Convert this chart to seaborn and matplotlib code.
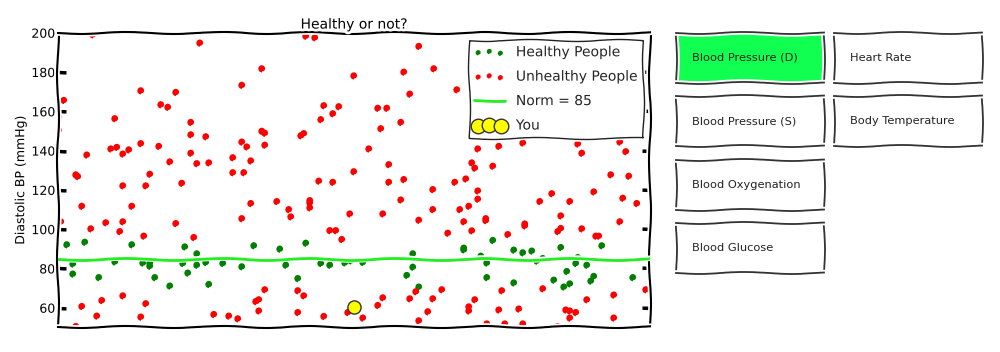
import matplotlib
matplotlib.use("Agg")
import matplotlib.pyplot as plt
import seaborn as sns

# ---------------- data ----------------
healthy_x = [9, 27, 74, 127, 139, 196, 15, 15, 57, 85,
             92, 92, 125, 139, 148, 165, 184, 41, 97, 130,
             112, 151, 222, 248, 228, 263, 272, 287, 293, 305,
             240, 355, 355, 349, 361, 406, 406, 435, 423, 429,
             456, 465, 474, 479, 485, 503, 520, 518, 529, 544,
             429, 456, 496, 509, 512, 506, 536, 533, 575]
healthy_y = [92.1, 93.4, 92.1, 91.0, 87.5, 91.6, 82.3, 77.2, 83.4, 82.8,
             82.8, 81.2, 82.6, 81.7, 83.1, 82.6, 80.9, 75.4, 75.4, 77.7,
             71.1, 71.9, 89.9, 92.9, 81.7, 82.6, 81.7, 82.9, 83.9, 83.1,
             74.9, 87.5, 80.7, 76.5, 70.6, 90.4, 89.5, 94.3, 86.3, 82.8,
             89.4, 88.0, 88.9, 83.8, 85.1, 90.7, 85.6, 82.6, 81.7, 91.6,
             75.4, 72.7, 74.1, 78.5, 72.2, 70.6, 76.0, 73.6, 75.4]

unhealthy_x = [35, 142, 83, 118, 184, 6, 103, 110, 57, 1,
               1, 133, 133, 148, 83, 101, 53, 59, 65, 71,
               29, 133, 184, 189, 193, 175, 112, 139, 151, 18,
               20, 92, 175, 186,
               65, 88, 124, 24, 74, 193, 3, 48, 65, 33,
               62, 86, 118, 136, 184, 24, 44, 65, 88, 39,
               83, 18, 156, 171, 180,
               248, 257, 361, 204, 296, 346, 376, 352, 266, 281,
               275, 263, 320, 329, 343, 323, 204, 207, 243, 246,
               207, 311, 331, 296, 346, 261,
               275, 331, 375, 219, 252, 252, 252, 231, 233, 343,
               375, 292, 325, 361, 272, 278, 284, 390, 207, 198,
               201, 201, 240, 246, 240, 266, 290, 305, 320, 325,
               352, 358, 375, 384, 370, 361,
               399, 420, 441, 465, 520, 562, 524, 568, 414, 417,
               435, 408, 553, 571,
               397, 420, 420, 402, 411, 406, 414, 428, 428, 450,
               467, 467, 482, 494, 512, 503, 503, 500, 524, 536,
               565, 579, 562, 538, 541, 444, 417, 411, 411, 441,
               461, 485, 529, 556, 588, 508, 512, 518, 512, 556,
               429, 447, 465, 500]
unhealthy_y = [199.0, 194.8, 170.5, 169.7, 173.3, 165.6, 163.4, 162.1, 156.3, 157.0,
               150.4, 154.4, 148.1, 147.1, 143.6, 142.2, 140.9, 141.7, 138.3, 140.4,
               137.8, 138.7, 144.4, 141.9, 134.8, 136.4, 134.3, 133.4, 133.8, 127.7,
               126.8, 128.0, 128.8, 128.8,
               122.1, 122.1, 123.4, 111.7, 111.7, 113.1, 103.8, 103.3, 103.8, 100.2,
               98.8, 96.5, 102.9, 95.8, 105.4, 60.7, 63.7, 66.1, 62.1, 55.8,
               55.3, 50.5, 56.6, 55.8, 54.4,
               198.3, 197.5, 193.1, 181.7, 178.1, 180.0, 181.7, 168.8, 162.9, 162.4,
               158.8, 155.8, 161.6, 161.6, 154.4, 151.2, 149.9, 148.9, 147.6, 148.7,
               142.8, 140.9, 132.9, 129.3, 125.3, 124.5,
               123.9, 123.9, 120.2, 114.1, 114.6, 113.4, 110.9, 110.0, 106.3, 114.9,
               110.0, 107.8, 107.8, 104.6, 99.3, 99.3, 94.8, 98.0, 69.2, 63.2,
               64.1, 58.4, 68.7, 66.1, 57.6, 55.6, 57.6, 54.8, 61.2, 65.1,
               64.6, 68.2, 64.6, 69.2, 58.0, 53.4,
               171.0, 140.9, 142.2, 143.9, 143.4, 144.4, 138.7, 139.5, 133.8, 131.1,
               132.1, 125.6, 127.7, 127.0,
               123.9, 119.5, 115.3, 110.0, 111.7, 103.8, 99.2, 105.4, 104.4, 97.3,
               102.7, 101.7, 114.1, 118.1, 114.1, 106.8, 100.4, 98.8, 100.2, 119.0,
               115.8, 113.1, 103.8, 96.5, 96.5, 68.7, 64.1, 60.5, 58.4, 58.9,
               59.4, 69.7, 64.1, 66.5, 69.2, 58.9, 58.4, 57.6, 54.8, 54.8,
               51.8, 51.8, 51.8, 50.5]

you_x = [296]
you_y = [60.4]
norm_value = 85

y_ticks = [60, 80, 100, 120, 140, 160, 180, 200]

button_labels = ["Blood Pressure (D)", "Heart Rate",
                 "Blood Pressure (S)", "Body Temperature",
                 "Blood Oxygenation", "Blood Glucose"]
active_button = "Blood Pressure (D)"

# ---------------- style ----------------
sns.set_style("white")
plt.xkcd()
plt.rcParams['font.family'] = ['DejaVu Sans']

fig = plt.figure(figsize=(10, 3.52), dpi=100)
ax = fig.add_axes([0.058, 0.070, 0.592, 0.837])

sns.scatterplot(x=healthy_x, y=healthy_y, color='green', s=16, edgecolor='none',
                label='Healthy People', ax=ax, zorder=2)
sns.scatterplot(x=unhealthy_x, y=unhealthy_y, color='red', s=16, edgecolor='none',
                label='Unhealthy People', ax=ax, zorder=2)
ax.axhline(norm_value, color='#22ee22', lw=2, label=f'Norm = {norm_value}', zorder=3)
sns.scatterplot(x=you_x, y=you_y, color='yellow', s=90, edgecolor='#333333', linewidth=1,
                label='You', ax=ax, zorder=4)

ax.set_xlim(0, 592)
ax.set_ylim(50, 200)
ax.set_xticks([])
ax.set_yticks(y_ticks)
ax.tick_params(axis='y', direction='in', length=6, width=2.5, left=True, right=True,
               labelsize=9, colors='black', pad=2)
for sp in ax.spines.values():
    sp.set_color('black')
    sp.set_linewidth(1.5)
ax.set_ylabel('Diastolic BP (mmHg)', fontsize=9, color='black', labelpad=3)
ax.set_xlabel('')
ax.set_title('Healthy or not?', fontsize=10, pad=3, color='black')
leg = ax.legend(loc='upper right', fontsize=10, scatterpoints=3, fancybox=False,
                edgecolor='#222222', framealpha=1, labelspacing=0.75, handlelength=2.2)
handles = leg.legend_handles
handles[0].set_sizes([9])
handles[1].set_sizes([9])
handles[3].set_sizes([110])

# ---------------- buttons ----------------
col_left = [0.676, 0.834]
row_bottom = [0.765, 0.585, 0.403, 0.224]
btn_w, btn_h = 0.148, 0.142
slots = [(0, 0), (1, 0), (0, 1), (1, 1), (0, 2), (0, 3)]
for label, (c, r) in zip(button_labels, slots):
    bax = fig.add_axes([col_left[c], row_bottom[r], btn_w, btn_h])
    bax.set_facecolor('#10ff50' if label == active_button else 'white')
    bax.set_xticks([])
    bax.set_yticks([])
    for sp in bax.spines.values():
        sp.set_color('#333333')
        sp.set_linewidth(1.3)
    bax.text(0.107, 0.5, label, ha='left', va='center', fontsize=8.2,
             color='#222222', transform=bax.transAxes, path_effects=[])

fig.savefig('out.png', dpi=100)
